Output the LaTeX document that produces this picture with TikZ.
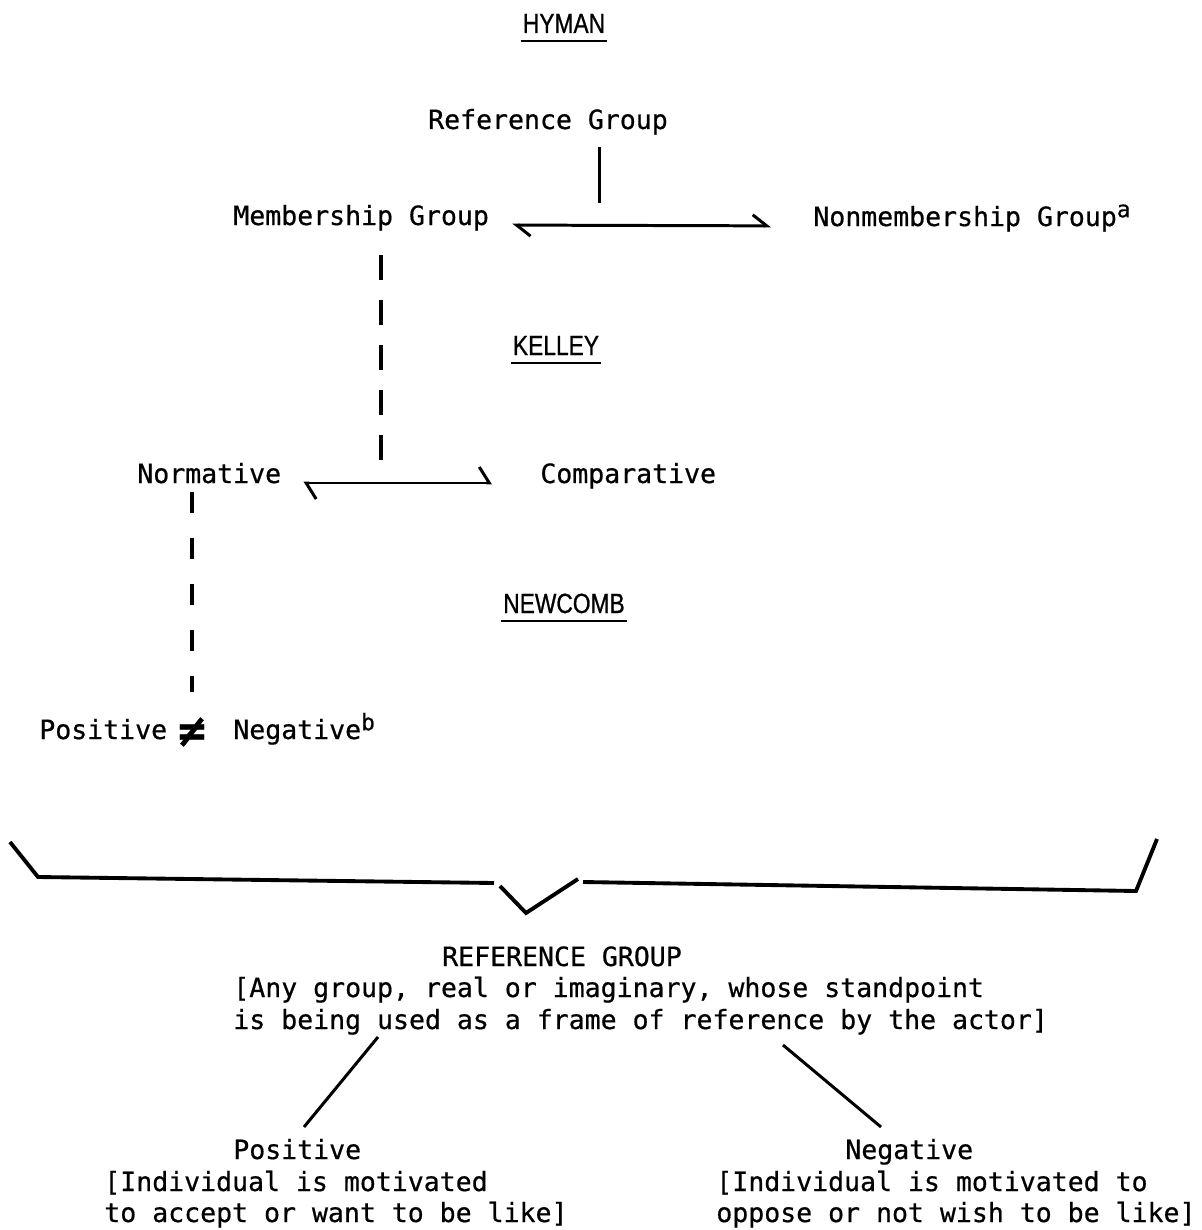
\documentclass[tikz,border=0pt]{standalone}
\usepackage{fontspec}
\setmainfont{DejaVu Sans Mono}[FakeBold=0.6]
\newfontfamily\headfont{Liberation Sans}[FakeStretch=0.82,FakeBold=0.8]
\usetikzlibrary{arrows.meta, calc, positioning}

\newcommand{\supmark}[1]{\raisebox{5pt}{\fontsize{13}{13}\selectfont #1}}

\begin{document}
\begin{tikzpicture}[x=0.02cm,y=-0.02cm,
	txt/.style={inner sep=0pt, font=\fontsize{15.1}{18}\selectfont},
	head/.style={inner sep=0pt, font=\headfont\fontsize{15.8}{19}\selectfont},
	link/.style={line width=1.7pt},
	uline/.style={line width=1.5pt},
	dashlink/.style={line width=2.2pt, dash pattern=on 0.5cm off 0.4cm},
	dashlinkb/.style={line width=2.2pt, dash pattern=on 0.42cm off 0.5cm},
	harpA/.style={line width=1.7pt, arrows={Straight Barb[harpoon,length=0.28cm,width=0.44cm]-Straight Barb[harpoon,length=0.28cm,width=0.44cm]}},
	harpB/.style={line width=1.7pt, arrows={Straight Barb[harpoon,length=0.2cm,width=0.64cm]-Straight Barb[harpoon,length=0.2cm,width=0.64cm]}},
	brace/.style={line width=2.2pt},]
	\useasboundingbox (0,0) rectangle (1201,1230);

	% Hyman
	\node[head, anchor=base] (hyman) at (564,33) {HYMAN};
	\draw[uline] ([xshift=-0.04cm,yshift=-0.16cm]hyman.base west) -- ([xshift=0.04cm,yshift=-0.16cm]hyman.base east);
	\node[txt, anchor=base] (ref) at (548,129) {Reference Group};
	\node[txt, anchor=base west] (mem) at (233,225) {Membership Group};
	\node[txt, anchor=base west] (nonmem) at (813,226) {Nonmembership Group\supmark{a}};
	\coordinate (hj) at (599,203);
	\draw[link, shorten <=0.24cm] (ref.south -| hj) -- (hj);
	\draw[harpA, shorten <=0.46cm, shorten >=0.84cm] (mem.base east) -- (nonmem.base west);

	% Kelley
	\node[head, anchor=base] (kelley) at (556,355) {KELLEY};
	\draw[uline] ([xshift=-0.04cm,yshift=-0.16cm]kelley.base west) -- ([xshift=0.04cm,yshift=-0.16cm]kelley.base east);
	\node[txt, anchor=base west] (norm) at (137,483) {Normative};
	\node[txt, anchor=base west] (comp) at (540,483) {Comparative};
	\coordinate (kj) at (381,467);
	\draw[dashlink, shorten <=0.48cm] (mem.south -| kj) -- (kj);
	\draw[harpB, shorten <=0.44cm, shorten >=0.96cm] (norm.base east) -- (comp.base west);

	% Newcomb
	\node[head, anchor=base] (newcomb) at (564,613) {NEWCOMB};
	\draw[uline] ([xshift=-0.04cm,yshift=-0.16cm]newcomb.base west) -- ([xshift=0.04cm,yshift=-0.16cm]newcomb.base east);
	\node[txt, anchor=base west] (pos) at (39,739) {Positive};
	\node[inner sep=0pt, font=\fontsize{26}{26}\selectfont\bfseries] (neq) at (192,732) {≠};
	\node[txt, anchor=base west] (neg) at (233,739) {Negative\supmark{b}};
	\draw[dashlinkb, shorten <=0.16cm, shorten >=0.5cm] (norm.south -| neq.north) -- (neq.north);

	% brace
	\draw[brace] (10,842) -- (38,877) -- (494,883);
	\draw[brace] (500,886) -- (526,913) -- (578,879);
	\draw[brace] (583,882) -- (1136,891) -- (1157,839);

	% reference group definition
	\node[txt, anchor=base] (rg) at (562,966) {REFERENCE GROUP};
	\node[txt, anchor=base west] (def1) at (233,997) {[Any group, real or imaginary, whose standpoint};
	\node[txt, anchor=base west] (def2) at (233,1029) {is being used as a frame of reference by the actor]};

	\node[txt, anchor=base west] (posT) at (233,1159) {Positive};
	\node[txt, anchor=base west] (posD1) at (104,1191) {[Individual is motivated};
	\node[txt, anchor=base west] (posD2) at (104,1222) {to accept or want to be like]};
	\node[txt, anchor=base west] (negT) at (845,1159) {Negative};
	\node[txt, anchor=base west] (negD1) at (716,1191) {[Individual is motivated to};
	\node[txt, anchor=base west] (negD2) at (716,1222) {oppose or not wish to be like]};

	\coordinate (pa) at (378,1037);
	\coordinate (pb) at (304,1127);
	\coordinate (na) at (783,1045);
	\coordinate (nb) at (881,1127);
	\draw[link] (pa) -- (pb);
	\draw[link] (na) -- (nb);
\end{tikzpicture}
\end{document}
